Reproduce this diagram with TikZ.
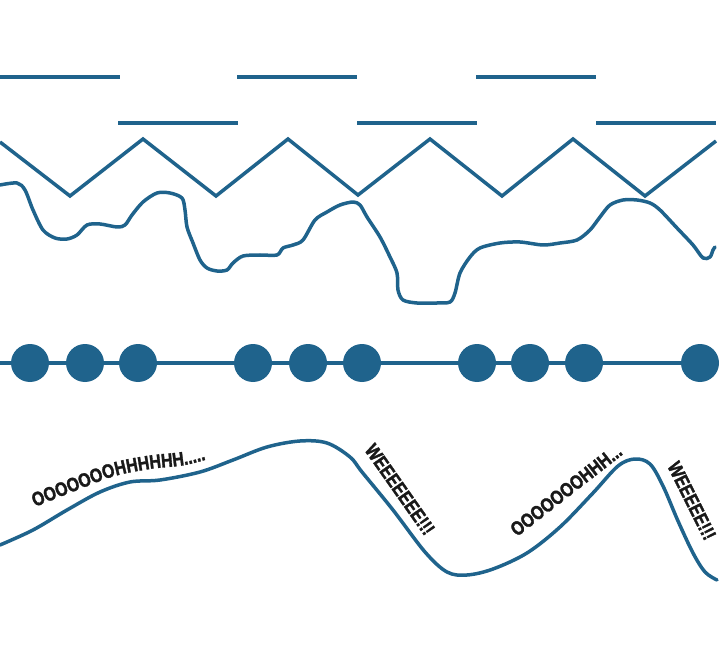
\documentclass[tikz,border=0pt]{standalone}
\usepackage{fontspec}
\newfontfamily\lblfont{Liberation Sans Bold}[FakeStretch=0.82, FakeBold=1.5]
\newcommand\shoutfont{\lblfont\fontsize{19.5}{19.5}\selectfont}
\usetikzlibrary{decorations.text}
\definecolor{wave}{RGB}{31,99,140}
\definecolor{ink}{RGB}{25,25,25}
\begin{document}
\begin{tikzpicture}[x=1pt,y=-1pt,
  waveline/.style={draw=wave, line width=3.5pt, line join=round, line cap=round},
  zigline/.style={draw=wave, line width=3.5pt, line join=miter},
  dashseg/.style={draw=wave, line width=4pt},
  beadline/.style={draw=wave, line width=4pt},
  bead/.style={circle, fill=wave, minimum size=38pt, inner sep=0pt},
  shout/.style={decorate, decoration={text along path, text align=left, text color=ink, text={|\shoutfont|#1}}}
]
\useasboundingbox (0,0) rectangle (720,660);

% dashes
\foreach \i/\x in {0/0,1/237,2/476} {
  \coordinate (dA\i) at (\x,77);
  \coordinate (dB\i) at (\x+120,77);
  \draw[dashseg] (dA\i) -- (dB\i);
}
\foreach \i/\x in {0/118,1/357,2/596} {
  \coordinate (eA\i) at (\x,123);
  \coordinate (eB\i) at (\x+120,123);
  \draw[dashseg] (eA\i) -- (eB\i);
}

% zigzag
\draw[zigline] (0,142) -- (70,196) -- (143,139) -- (216,196) -- (288,139) -- (358,195)
  -- (430,139) -- (502,196) -- (573,139) -- (645,196) -- (716,141);

% wobbly line
\draw[waveline] plot[smooth, tension=0.5] coordinates {
 (0,185) (17,183) (25,190) (33,210) (43,230) (55,238) (67,239) (77,235) (87,225)
 (100,224) (117,227) (125,225) (132,215) (143,202) (157,193) (170,193) (182,198)
 (185,210) (187,227) (193,243) (200,260) (207,268) (217,271) (227,270) (233,263)
 (243,256) (260,255) (277,255) (283,248) (293,245) (303,240) (315,220) (327,212)
 (340,205) (353,202) (360,205) (367,217) (380,237) (390,257) (397,273) (398,290)
 (403,300) (417,303) (437,303) (450,302) (455,293) (460,273) (470,257) (480,248)
 (500,243) (520,242) (543,245) (560,243) (577,240) (590,230) (600,217) (610,205)
 (623,200) (637,200) (650,203) (660,210) (677,228) (693,245) (703,258) (710,257)
 (713,250) (715,247)};

% beads
\coordinate (bL) at (0,363);
\coordinate (bR) at (700,363);
\draw[beadline] (bL) -- (bR);
\foreach \n/\x in {1/30,2/85,3/138,4/253,5/308,6/362,7/477,8/530,9/584,10/700}
  \node[bead] (b\n) at (\x,363) {};

% bottom curve
\draw[waveline] plot[smooth, tension=0.55] coordinates {
 (0,545) (33,530) (67,510) (100,492) (130,482) (160,480) (200,472)
 (233,460) (267,447) (300,441) (327,443) (350,457) (362,472) (393,510) (425,552)
 (447,572) (467,575) (493,569) (527,553) (560,527) (593,493) (618,466) (635,459)
 (650,464) (663,486) (678,521) (693,553) (705,572) (717,580)};

% shouted labels
\path[shout={OOOOOOOHHHHHH.....}] plot[smooth, tension=0.6] coordinates {
 (35,507) (80,489) (115,476) (150,469) (185,465) (215,457) (245,448)};
\path[shout={WEEEEEEE!!!}] (364,450) -- (442,561);
\path[shout={OOOOOOOHHH...}] (517,537) -- (635,445);
\path[shout={WEEEEE!!!}] (667,466) -- (718,568);
\end{tikzpicture}
\end{document}
